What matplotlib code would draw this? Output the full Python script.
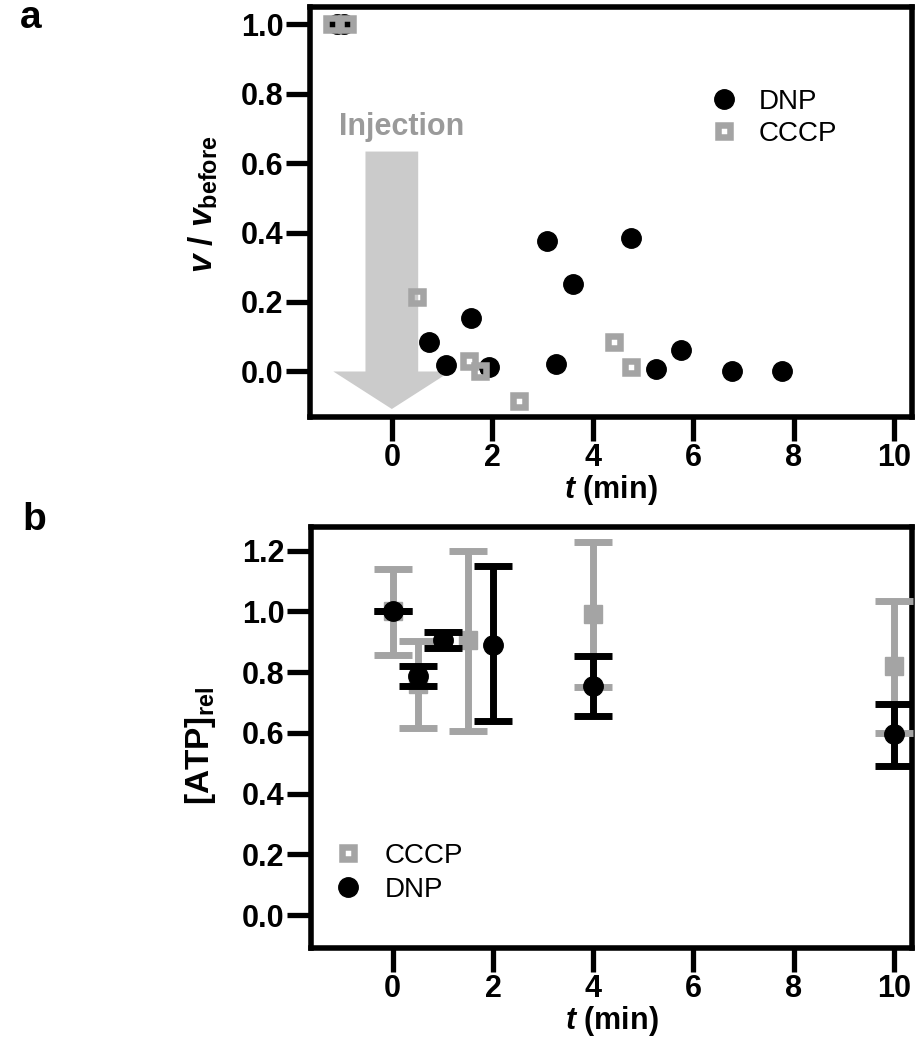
import numpy as np
import matplotlib
matplotlib.use("Agg")
import matplotlib.pyplot as plt
from matplotlib.lines import Line2D
from matplotlib.ticker import FormatStrFormatter

plt.rcParams["font.family"] = ["Liberation Sans", "DejaVu Sans"]
plt.rcParams["font.weight"] = "bold"
plt.rcParams["axes.labelweight"] = "bold"
plt.rcParams["mathtext.fontset"] = "custom"
plt.rcParams["mathtext.rm"] = "Liberation Sans:bold"
plt.rcParams["mathtext.it"] = "Liberation Sans:italic:bold"
plt.rcParams["mathtext.bf"] = "Liberation Sans:bold"

GRAY = "#a4a4a4"
ARROW = "#cbcbcb"

# ---------------- panel a: v / v_before ----------------
dnp_t = [-1.1, -0.95, 0.75, 1.08, 1.58, 1.93, 3.09, 3.26, 3.6, 4.77, 5.27, 5.75, 6.77, 7.77]
dnp_v = [1.0, 1.0, 0.086, 0.019, 0.153, 0.012, 0.376, 0.022, 0.251, 0.385, 0.006, 0.062, 0.0, 0.002]
cccp_t = [-1.2, -0.89, 0.51, 1.53, 1.75, 2.53, 4.42, 4.76]
cccp_v = [1.0, 1.0, 0.215, 0.030, 0.0, -0.085, 0.086, 0.014]

# ---------------- panel b: [ATP]rel ----------------
atp_dnp_t = [0, 0.5, 1, 2, 4, 10]
atp_dnp_mean = [1.0, 0.787, 0.907, 0.891, 0.754, 0.596]
atp_dnp_low = [1.0, 0.754, 0.880, 0.640, 0.656, 0.492]
atp_dnp_high = [1.0, 0.822, 0.931, 1.148, 0.852, 0.694]

atp_cccp_t = [0, 0.5, 1.5, 4, 10]
atp_cccp_mean = [1.0, 0.76, 0.905, 0.99, 0.82]
atp_cccp_low = [0.856, 0.615, 0.607, 0.752, 0.601]
atp_cccp_high = [1.139, 0.904, 1.200, 1.228, 1.033]

xticks = [0, 2, 4, 6, 8, 10]

fig = plt.figure(figsize=(9.19, 10.5), dpi=100)
W, H = 919, 1050
ax1 = fig.add_axes([310 / W, 1 - 417 / H, 602 / W, 410 / H])
ax2 = fig.add_axes([311 / W, 1 - 948 / H, 601 / W, 421 / H])


def style(ax):
    for s in ax.spines.values():
        s.set_linewidth(4)
    ax.tick_params(direction="out", length=17, width=3.8, labelsize=22, pad=2)
    ax.set_xticks(xticks)
    ax.set_xlim(-1.63, 10.36)
    ax.yaxis.set_major_formatter(FormatStrFormatter("%.1f"))
    ax.set_xlabel(r"$\mathit{t}$ (min)", fontsize=22, labelpad=0)


# --- a ---
ax1.arrow(0, 0.633, 0, -0.741, width=1.05, head_width=2.33, head_length=0.108,
          length_includes_head=True, color=ARROW, lw=0, zorder=1)
ax1.text(0.2, 0.705, "Injection", color="#9a9a9a", fontsize=22,
         ha="center", va="center", zorder=2)
ax1.plot(dnp_t, dnp_v, "o", color="black", ms=14, zorder=3, clip_on=False)
ax1.plot(cccp_t, cccp_v, "s", mfc="none", mec=GRAY, ms=8.3, mew=4.7, zorder=4, clip_on=False)
ax1.set_ylim(-0.131, 1.049)
ax1.set_yticks([0.0, 0.2, 0.4, 0.6, 0.8, 1.0])
style(ax1)
ax1.set_ylabel(r"$\mathit{v}$ / $\mathit{v}_{\mathrm{before}}$", fontsize=24)
ax1.yaxis.set_label_coords(-0.15, 0.52)

h_dnp = Line2D([], [], marker="o", ls="none", color="black", ms=14)
h_cccp = Line2D([], [], marker="s", ls="none", mfc="none", mec=GRAY, ms=8.3, mew=4.7)
ax1.legend([h_dnp, h_cccp], ["DNP", "CCCP"], loc="upper left",
           bbox_to_anchor=(0.665, 0.80), frameon=False, borderpad=0, borderaxespad=0,
           handlelength=1.0, handletextpad=0.75, labelspacing=0.2,
           prop={"size": 20, "weight": "normal"})

# --- b ---
ax2.errorbar(atp_cccp_t, atp_cccp_mean,
             yerr=[np.subtract(atp_cccp_mean, atp_cccp_low), np.subtract(atp_cccp_high, atp_cccp_mean)],
             fmt="s", color=GRAY, ms=12.5, elinewidth=5, capsize=14, capthick=5,
             zorder=3, clip_on=False)
ax2.errorbar(atp_dnp_t, atp_dnp_mean,
             yerr=[np.subtract(atp_dnp_mean, atp_dnp_low), np.subtract(atp_dnp_high, atp_dnp_mean)],
             fmt="o", color="black", ms=14, elinewidth=5, capsize=14, capthick=5,
             zorder=4, clip_on=False)
ax2.set_ylim(-0.108, 1.278)
ax2.set_yticks([0.0, 0.2, 0.4, 0.6, 0.8, 1.0, 1.2])
style(ax2)
ax2.set_ylabel(r"$\mathrm{[ATP]}_{\mathrm{rel}}$", fontsize=24)
ax2.yaxis.set_label_coords(-0.155, 0.48)
ax2.legend([h_cccp, h_dnp], ["CCCP", "DNP"], loc="upper left",
           bbox_to_anchor=(0.039, 0.25), frameon=False, borderpad=0, borderaxespad=0,
           handlelength=1.0, handletextpad=0.8, labelspacing=0.3,
           prop={"size": 20, "weight": "normal"})

fig.text(20 / W, 1 - 28 / H, "a", fontsize=28, va="baseline")
fig.text(22 / W, 1 - 530 / H, "b", fontsize=28, va="baseline")

fig.savefig("out.png", dpi=100)
